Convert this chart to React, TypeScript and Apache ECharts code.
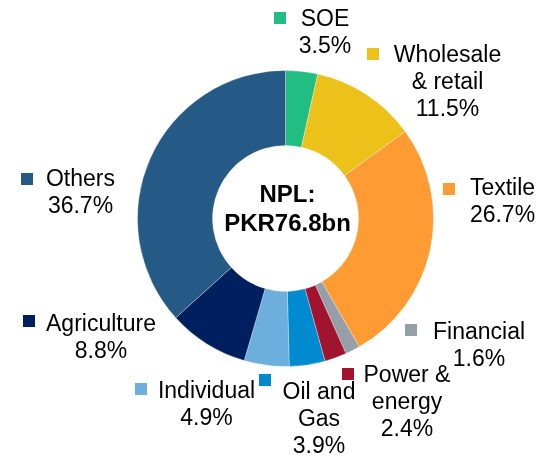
import React, { useEffect, useRef } from "react";
import * as echarts from "echarts";

const categories = ["SOE", "Wholesale & retail", "Textile", "Financial", "Power & energy", "Oil and Gas", "Individual", "Agriculture", "Others"];
const labelNames = ["SOE", "Wholesale\n& retail", "Textile", "Financial", "Power &\nenergy", "Oil and\nGas", "Individual", "Agriculture", "Others"];
const shares = [3.5, 11.5, 26.7, 1.6, 2.4, 3.9, 4.9, 8.8, 36.7];
const centerLines = ["NPL:", "PKR76.8bn"];

const colors = ["#21BD82", "#EBC11A", "#FF9B33", "#969FA8", "#A1142F", "#008ACF", "#6DAFDC", "#001F5F", "#255A87"];
// label block: [centerX, topY]
const labelPos: [number, number][] = [
  [325, 4], [447.5, 40], [502.5, 173], [479, 317], [407, 360], [319, 377], [206.5, 376], [101, 309], [80.5, 164],
];
// legend key: [left, top]
const keyPos: [number, number][] = [
  [274, 12], [367, 48], [443, 183], [405, 324], [342, 368], [259, 374], [135, 383], [23, 315], [21, 173],
];

const FONT = "'Liberation Sans', Arial, sans-serif";

export default function App() {
  const ref = useRef<HTMLDivElement>(null);
  useEffect(() => {
    if (!ref.current) return;
    const chart = echarts.init(ref.current, undefined, { renderer: "svg" });
    chart.setOption({
      animation: false,
      color: colors,
      legend: categories.map((name, i) => ({
        data: [name],
        left: keyPos[i][0],
        top: keyPos[i][1],
        padding: 0,
        itemGap: 0,
        itemWidth: 12,
        itemHeight: 12,
        icon: "rect",
        selectedMode: false,
        formatter: () => "",
        itemStyle: { borderWidth: 0 },
        textStyle: { fontSize: 1, lineHeight: 1, padding: 0 },
      })),
      graphic: [
        {
          type: "text",
          x: 287.5,
          y: 179,
          silent: true,
          style: {
            text: centerLines.join("\n"),
            align: "center",
            verticalAlign: "top",
            font: `bold 24px ${FONT}`,
            lineHeight: 29,
            fill: "#000",
          },
        },
      ],
      series: [
        {
          type: "pie",
          center: [285.5, 218.5],
          radius: [73, 148],
          startAngle: 90,
          clockwise: true,
          avoidLabelOverlap: false,
          emphasis: { disabled: true },
          itemStyle: { borderColor: "#fff", borderWidth: 0.3 },
          label: {
            show: true,
            position: "outside",
            formatter: (p: any) => `${labelNames[p.dataIndex]}\n${p.value.toFixed(1)}%`,
            fontSize: 23,
            lineHeight: 27,
            fontFamily: FONT,
            color: "#000",
            align: "center",
          },
          labelLine: { show: false },
          labelLayout: (p: any) => ({
            x: labelPos[p.dataIndex][0],
            y: labelPos[p.dataIndex][1],
            align: "center",
            verticalAlign: "top",
          }),
          data: categories.map((name, i) => ({ name, value: shares[i] })),
        },
      ],
    });
    return () => chart.dispose();
  }, []);
  return <div ref={ref} style={{ position: "fixed", left: 0, top: 0, width: 547, height: 457 }} />;
}
